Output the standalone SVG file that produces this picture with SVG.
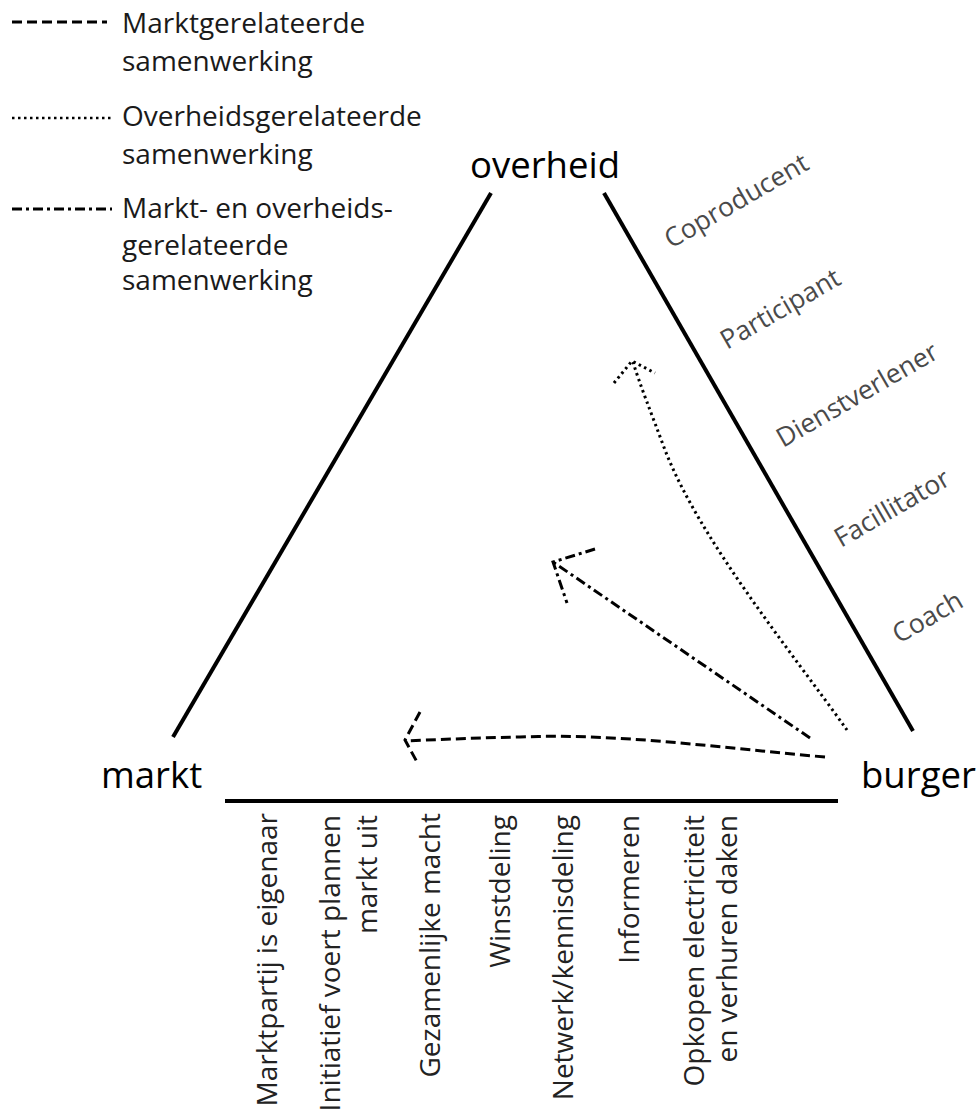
<svg xmlns="http://www.w3.org/2000/svg" width="978" height="1110" viewBox="0 0 978 1110">
<style>
text{font-family:"Open Sans","DejaVu Sans",sans-serif;fill:#1a1a1a}
.leg{font-size:28px}
.big{font-size:36.5px;fill:#000}
.role{font-size:26.5px;fill:#4a4a4a}
.bot{font-size:28px;text-anchor:end;fill:#222}
.axis{stroke:#000;stroke-width:4;fill:none;stroke-linecap:butt}
.mk{stroke:#000;stroke-width:3;fill:none;stroke-dasharray:10 5}
.ov{stroke:#000;stroke-width:3;fill:none;stroke-dasharray:2.5 3.5}
.mo{stroke:#000;stroke-width:3;fill:none;stroke-dasharray:10 4 3 4}
</style>
<g id="legend">
<line x1="12" y1="22" x2="107" y2="22" class="mk"/>
<text class="leg" x="122" y="33">Marktgerelateerde</text>
<text class="leg" x="122" y="71">samenwerking</text>
<line x1="12" y1="118" x2="112" y2="118" class="ov" style="stroke-width:2.5"/>
<text class="leg" x="122" y="126">Overheidsgerelateerde</text>
<text class="leg" x="122" y="164">samenwerking</text>
<line x1="12" y1="209" x2="112" y2="209" class="mo"/>
<text class="leg" x="122" y="218">Markt- en overheids-</text>
<text class="leg" x="122" y="255">gerelateerde</text>
<text class="leg" x="122" y="290">samenwerking</text>
</g>
<g id="triangle">
<line x1="173" y1="737" x2="491" y2="193" class="axis"/>
<line x1="604" y1="193" x2="913" y2="731" class="axis"/>
<line x1="225" y1="801" x2="838" y2="801" class="axis"/>
</g>
<g id="overheid"><text class="big" x="470" y="178">overheid</text></g>
<g id="markt"><text class="big" x="101" y="788">markt</text></g>
<g id="burger"><text class="big" x="861" y="788">burger</text></g>
<g id="roles">
<text class="role" transform="translate(671,249) rotate(-30)">Coproducent</text>
<text class="role" transform="translate(727,350) rotate(-30)">Participant</text>
<text class="role" transform="translate(783,448) rotate(-30)">Dienstverlener</text>
<text class="role" transform="translate(841,548) rotate(-30)">Facillitator</text>
<text class="role" transform="translate(899,644) rotate(-30)">Coach</text>
</g>
<g id="activities">
<text class="bot" transform="translate(277,813) rotate(-90)">Marktpartij is eigenaar</text>
<text class="bot" transform="translate(340,815) rotate(-90)">Initiatief voert plannen</text>
<text class="bot" transform="translate(377,815) rotate(-90)">markt uit</text>
<text class="bot" transform="translate(440,813) rotate(-90)">Gezamenlijke macht</text>
<text class="bot" transform="translate(510,815) rotate(-90)">Winstdeling</text>
<text class="bot" transform="translate(573,815) rotate(-90)">Netwerk/kennisdeling</text>
<text class="bot" transform="translate(639,815) rotate(-90)">Informeren</text>
<text class="bot" transform="translate(704,815) rotate(-90)">Opkopen electriciteit</text>
<text class="bot" transform="translate(737,815) rotate(-90)">en verhuren daken</text>
</g>
<g id="connectors">
<path class="mk" d="M825,757 C720,748 620,733 520,737 C470,738 430,740 405,741"/>
<path class="mk" d="M420,712 L405,740 L417,762"/>
<path class="mo" d="M810,738 L553,562"/>
<path class="mo" d="M595,549 L553,562 L567,603"/>
<path class="ov" d="M847,730 C790,650 700,540 665,450 C652,415 640,385 633,362"/>
<path class="ov" d="M614,383 L632,361 L655,373"/>
</g>
</svg>
